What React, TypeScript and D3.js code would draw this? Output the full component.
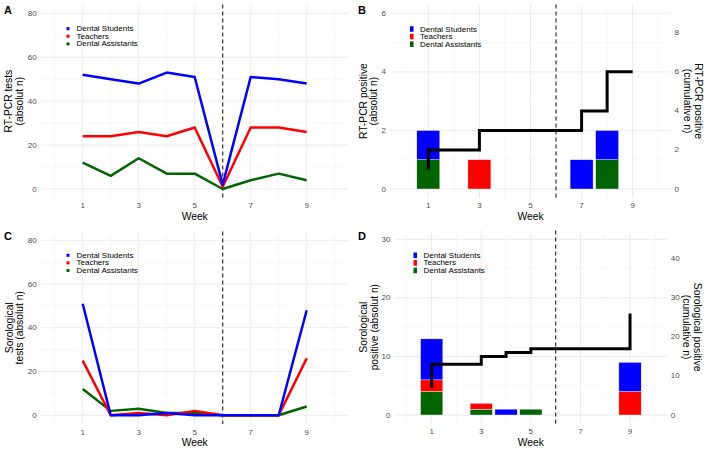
import React from 'react';
import * as d3 from 'd3';

const weeks = [1, 2, 3, 4, 5, 6, 7, 8, 9];
const groups = ['Dental Students', 'Teachers', 'Dental Assistants'];
const groupColors = ['#0000FF', '#FF0000', '#006400'];
const xTicks = [1, 3, 5, 7, 9];

const pcrStudents = [52, 50, 48, 53, 51, 2, 51, 50, 48];
const pcrTeachers = [24, 24, 26, 24, 28, 1, 28, 28, 26];
const pcrAssistants = [12, 6, 14, 7, 7, 0, 4, 7, 4];

const seroStudents = [51, 0, 0, 1, 0, 0, 0, 0, 48];
const seroTeachers = [25, 0, 1, 0, 2, 0, 0, 0, 26];
const seroAssistants = [12, 2, 3, 1, 1, 0, 0, 0, 4];

const pcrPosStudents = [1, 0, 0, 0, 0, 0, 1, 1, 0];
const pcrPosTeachers = [0, 0, 1, 0, 0, 0, 0, 0, 0];
const pcrPosAssistants = [1, 0, 0, 0, 0, 0, 0, 1, 0];

const seroPosStudents = [7, 0, 0, 1, 0, 0, 0, 0, 5];
const seroPosTeachers = [2, 0, 1, 0, 0, 0, 0, 0, 4];
const seroPosAssistants = [4, 0, 1, 0, 1, 0, 0, 0, 0];

const pcrCumWeeks = [1, 1, 3, 7, 8, 9];
const pcrCumValues = [1, 2, 3, 4, 6, 6];
const seroCumWeeks = [1, 1, 3, 4, 5, 9];
const seroCumValues = [7, 13, 15, 16, 17, 26];

const lineTicks = [0, 20, 40, 60, 80];
const pcrPosTicks = [0, 2, 4, 6];
const pcrCumTicks = [0, 2, 4, 6, 8];
const seroPosTicks = [0, 10, 20, 30];
const seroCumTicks = [0, 10, 20, 30, 40];

const FONT = "'Liberation Sans', Arial, Helvetica, sans-serif";
const TICK_COLOR = '#4D4D4D';
const GRID = '#EBEBEB';
const GRID_MINOR = '#F3F3F3';
const SEC_FACTOR = 1.5;
const TITLE_SIZE = 10.3;

type Box = { left: number; right: number; top: number; bottom: number };

function Grid({ x, y, box, yMajor, yMinor }: any) {
  const xs = d3.range(0, 11);
  return (
    <g>
      {yMinor.map((v: number) => (
        <line key={'ym' + v} x1={box.left} x2={box.right} y1={y(v)} y2={y(v)} stroke={GRID_MINOR} strokeWidth={0.6} />
      ))}
      {xs.filter((v) => v % 2 === 0).map((v) => (
        <line key={'xm' + v} x1={x(v)} x2={x(v)} y1={box.top} y2={box.bottom} stroke={GRID_MINOR} strokeWidth={0.6} />
      ))}
      {yMajor.map((v: number) => (
        <line key={'yM' + v} x1={box.left} x2={box.right} y1={y(v)} y2={y(v)} stroke={GRID} strokeWidth={1} />
      ))}
      {xTicks.map((v) => (
        <line key={'xM' + v} x1={x(v)} x2={x(v)} y1={box.top} y2={box.bottom} stroke={GRID} strokeWidth={1} />
      ))}
    </g>
  );
}

function Axes({ x, y, box, yTicks, titleLines, titleX, label, labelX, labelY }: any) {
  return (
    <g fontFamily={FONT}>
      {yTicks.map((v: number) => (
        <text key={'yt' + v} x={box.left - 4} y={y(v)} textAnchor="end" dominantBaseline="central" fontSize={8} fill={TICK_COLOR}>
          {v}
        </text>
      ))}
      {xTicks.map((v) => (
        <text key={'xt' + v} x={x(v)} y={box.bottom + 8} textAnchor="middle" dominantBaseline="central" fontSize={8} fill={TICK_COLOR}>
          {v}
        </text>
      ))}
      <text x={(box.left + box.right) / 2} y={box.bottom + 18.5} textAnchor="middle" dominantBaseline="central" fontSize={TITLE_SIZE} fill="#000">
        Week
      </text>
      {titleLines.map((t: string, i: number) => {
        const cx = titleX[i];
        const cy = (box.top + box.bottom) / 2;
        return (
          <text key={'tt' + i} x={cx} y={cy} transform={`rotate(-90 ${cx} ${cy})`} textAnchor="middle" dominantBaseline="central" fontSize={TITLE_SIZE} fill="#000">
            {t}
          </text>
        );
      })}
      <text x={labelX} y={labelY} fontSize={11} fontWeight="bold" fill="#000">
        {label}
      </text>
    </g>
  );
}

function Dashed({ x, box }: any) {
  return <line x1={x(6)} x2={x(6)} y1={box.top} y2={box.bottom} stroke="#333" strokeWidth={1.2} strokeDasharray="4,3" />;
}

function LinePanel({ box, series, yTicks, titleLines, titleX, label, labelX, labelY, legendX, legendY }: any) {
  const x = d3.scaleLinear().domain([-0.5, 10.5]).range([box.left, box.right]);
  const y = d3.scaleLinear().domain([-4, 84]).range([box.bottom, box.top]);
  const line = d3
    .line<number>()
    .x((_, i) => x(weeks[i]))
    .y((d) => y(d));
  return (
    <g>
      <Grid x={x} y={y} box={box} yMajor={yTicks} yMinor={[10, 30, 50, 70]} />
      <Dashed x={x} box={box} />
      {[2, 1, 0].map((gi) => (
        <path key={gi} d={line(series[gi]) || ''} fill="none" stroke={groupColors[gi]} strokeWidth={2.5} strokeLinejoin="round" />
      ))}
      <Axes x={x} y={y} box={box} yTicks={yTicks} titleLines={titleLines} titleX={titleX} label={label} labelX={labelX} labelY={labelY} />
      <g fontFamily={FONT}>
        {groups.map((g, i) => (
          <g key={g}>
            <rect x={legendX} y={legendY + i * 7.6 - 1.5} width={3} height={3} fill={groupColors[i]} />
            <text x={legendX + 10} y={legendY + i * 7.6} dominantBaseline="central" fontSize={8} fill="#000">
              {g}
            </text>
          </g>
        ))}
      </g>
    </g>
  );
}

function BarPanel({ box, series, yMax, yTicks, yMinor, cumTicks, cumWeeks, cumValues, titleLines, titleX, rightLines, rightX, label, labelX, labelY, legendX, legendY }: any) {
  const x = d3.scaleLinear().domain([-0.5, 10.5]).range([box.left, box.right]);
  const pad = yMax * 0.05;
  const y = d3.scaleLinear().domain([-pad, yMax + pad]).range([box.bottom, box.top]);
  const y2 = d3.scaleLinear().domain([-pad * SEC_FACTOR, (yMax + pad) * SEC_FACTOR]).range([box.bottom, box.top]);
  const rows = weeks.map((w, i) => ({ week: w, s: series[0][i], t: series[1][i], a: series[2][i] }));
  const stack = d3.stack<any>().keys(['a', 't', 's'])(rows);
  const keyColor: Record<string, string> = { s: groupColors[0], t: groupColors[1], a: groupColors[2] };
  const bw = x(0.45) - x(-0.45);
  const step = d3
    .line<number>()
    .curve(d3.curveStepAfter)
    .x((_, i) => x(cumWeeks[i]))
    .y((d) => y2(d));
  return (
    <g>
      <Grid x={x} y={y} box={box} yMajor={yTicks} yMinor={yMinor} />
      <Dashed x={x} box={box} />
      {stack.map((layer) =>
        layer.map((d, i) =>
          d[1] - d[0] > 0 ? (
            <rect key={layer.key + i} x={x(d.data.week) - bw / 2} y={y(d[1])} width={bw} height={y(d[0]) - y(d[1])} fill={keyColor[layer.key]} stroke="#FFFFFF" strokeWidth={0.4} />
          ) : null
        )
      )}
      <path d={step(cumValues) || ''} fill="none" stroke="#000" strokeWidth={3} strokeLinejoin="miter" />
      <Axes x={x} y={y} box={box} yTicks={yTicks} titleLines={titleLines} titleX={titleX} label={label} labelX={labelX} labelY={labelY} />
      <g fontFamily={FONT}>
        {cumTicks.map((v: number) => (
          <text key={'rt' + v} x={box.right + 3.5} y={y2(v)} dominantBaseline="central" fontSize={8} fill={TICK_COLOR}>
            {v}
          </text>
        ))}
        {rightLines.map((t: string, i: number) => {
          const cx = rightX[i];
          const cy = (box.top + box.bottom) / 2;
          return (
            <text key={'rl' + i} x={cx} y={cy} transform={`rotate(90 ${cx} ${cy})`} textAnchor="middle" dominantBaseline="central" fontSize={TITLE_SIZE} fill="#000">
              {t}
            </text>
          );
        })}
        {groups.map((g, i) => (
          <g key={g}>
            <rect x={legendX} y={legendY + i * 7.6 - 2.8} width={3.5} height={5.6} fill={groupColors[i]} />
            <text x={legendX + 10} y={legendY + i * 7.6} dominantBaseline="central" fontSize={8} fill="#000">
              {g}
            </text>
          </g>
        ))}
      </g>
    </g>
  );
}

export default function App() {
  const boxA: Box = { left: 40.7, right: 348.7, top: 4.5, bottom: 197.8 };
  const boxC: Box = { left: 40.7, right: 348.7, top: 231.5, bottom: 424 };
  const boxB: Box = { left: 390, right: 671, top: 4.5, bottom: 197.8 };
  const boxD: Box = { left: 394.5, right: 667.2, top: 230.5, bottom: 423.8 };
  return (
    <svg width={708} height={453} style={{ position: 'absolute', left: 0, top: 0, background: '#fff' }}>
      <rect width={708} height={453} fill="#fff" />
      <LinePanel
        box={boxA}
        series={[pcrStudents, pcrTeachers, pcrAssistants]}
        yTicks={lineTicks}
        titleLines={['RT-PCR tests', '(absolut n)']}
        titleX={[9, 19.5]}
        label="A"
        labelX={4}
        labelY={14}
        legendX={66.5}
        legendY={28.7}
      />
      <LinePanel
        box={boxC}
        series={[seroStudents, seroTeachers, seroAssistants]}
        yTicks={lineTicks}
        titleLines={['Sorological', 'tests (absolut n)']}
        titleX={[9, 19.5]}
        label="C"
        labelX={4}
        labelY={240}
        legendX={66.5}
        legendY={255.3}
      />
      <BarPanel
        box={boxB}
        series={[pcrPosStudents, pcrPosTeachers, pcrPosAssistants]}
        yMax={6}
        yTicks={pcrPosTicks}
        yMinor={[1, 3, 5]}
        cumTicks={pcrCumTicks}
        cumWeeks={pcrCumWeeks}
        cumValues={pcrCumValues}
        titleLines={['RT-PCR positive', '(absolut n)']}
        titleX={[364, 374]}
        rightLines={['RT-PCR positive', '(cumulative n)']}
        rightX={[698, 687.5]}
        label="B"
        labelX={358}
        labelY={14}
        legendX={410}
        legendY={29}
      />
      <BarPanel
        box={boxD}
        series={[seroPosStudents, seroPosTeachers, seroPosAssistants]}
        yMax={30}
        yTicks={seroPosTicks}
        yMinor={[5, 15, 25]}
        cumTicks={seroCumTicks}
        cumWeeks={seroCumWeeks}
        cumValues={seroCumValues}
        titleLines={['Sorological', 'positive (absolut n)']}
        titleX={[364, 375]}
        rightLines={['Sorological positive', '(cumulative n)']}
        rightX={[697, 686.5]}
        label="D"
        labelX={358}
        labelY={240}
        legendX={413.5}
        legendY={255.3}
      />
    </svg>
  );
}
